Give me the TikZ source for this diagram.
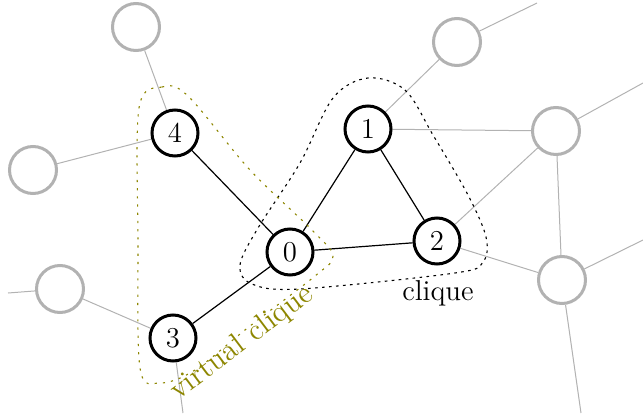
\documentclass[tikz,border=0pt]{standalone}
\usetikzlibrary{backgrounds}
\begin{document}
\begin{tikzpicture}[x=0.5pt,y=-0.5pt,
  mainnode/.style={circle,draw=black,line width=1.5pt,fill=white,minimum size=23pt,inner sep=0pt,font=\Large},
  graynode/.style={circle,draw=black!30,line width=1.5pt,fill=white,minimum size=23.5pt,inner sep=0pt},
  mainedge/.style={line width=0.6pt,black},
  grayedge/.style={line width=0.5pt,black!30},
  hullblack/.style={line width=0.55pt,black,dash pattern=on 1.3pt off 2.2pt},
  hullolive/.style={line width=0.55pt,olive,dash pattern=on 1.1pt off 3pt}]
\useasboundingbox (0,0) rectangle (643,413);
% main nodes
\node[mainnode] (n0) at (290,252) {0};
\node[mainnode] (n1) at (368,129) {1};
\node[mainnode] (n2) at (437,241) {2};
\node[mainnode] (n3) at (173,338) {3};
\node[mainnode] (n4) at (175,133) {4};
% gray nodes
\node[graynode] (gtl) at (136,27) {};
\node[graynode] (gl) at (33,170) {};
\node[graynode] (gbl) at (60,289) {};
\node[graynode] (gtr) at (457,42) {};
\node[graynode] (gr) at (556,131) {};
\node[graynode] (gbr) at (562,280) {};
% free ends
\coordinate (e1) at (8,293);
\coordinate (e2) at (183,413);
\coordinate (e3) at (537,3);
\coordinate (e4) at (643,83);
\coordinate (e5) at (643,240);
\coordinate (e6) at (581,413);
\begin{scope}[on background layer]
\draw[grayedge] (gtl) -- (n4);
\draw[grayedge] (gl) -- (n4);
\draw[grayedge] (e1) -- (gbl);
\draw[grayedge] (gbl) -- (n3);
\draw[grayedge] (n3) -- (e2);
\draw[grayedge] (gtr) -- (n1);
\draw[grayedge] (gtr) -- (e3);
\draw[grayedge] (n1) -- (gr);
\draw[grayedge] (gr) -- (e4);
\draw[grayedge] (gr) -- (n2);
\draw[grayedge] (gr) -- (gbr);
\draw[grayedge] (n2) -- (gbr);
\draw[grayedge] (gbr) -- (e5);
\draw[grayedge] (gbr) -- (e6);
\draw[mainedge] (n4) -- (n0);
\draw[mainedge] (n1) -- (n0);
\draw[mainedge] (n1) -- (n2);
\draw[mainedge] (n0) -- (n2);
\draw[mainedge] (n0) -- (n3);
\end{scope}
% clique hull
\draw[hullblack] plot[smooth cycle,tension=0.55] coordinates {
  (368,78) (405,90) (433,135) (468,195) (486,237) (483,262) (455,273)
  (300,289) (252,284) (240,265) (258,228) (300,163) (333,98)};
% virtual clique hull
\draw[hullolive] plot[smooth cycle,tension=0.55] coordinates {
  (139,108) (162,87) (188,96) (250,170) (312,230) (333,256) (315,276)
  (250,326) (195,370) (160,383) (140,368) (138,240)};
\node[font=\Large] (lc) at (438,293) {clique};
\node[font=\Large,text=olive,rotate=37,scale=1.05] (lv) at (242,343) {virtual clique};
\end{tikzpicture}
\end{document}
